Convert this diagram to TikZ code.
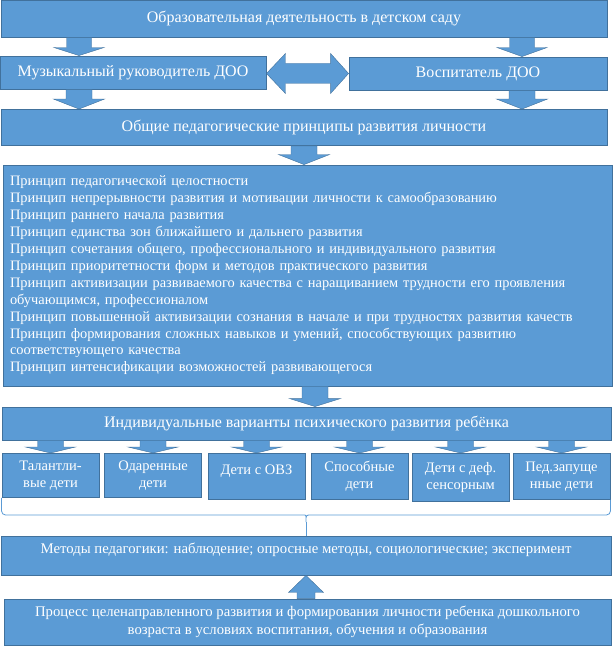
\documentclass[tikz,border=0pt]{standalone}
\usepackage{fontspec}
\setmainfont{Liberation Serif}
\usetikzlibrary{calc}

\definecolor{boxblue}{HTML}{5B9BD5}
\definecolor{boxline}{HTML}{41719C}

\tikzset{
  box/.style={draw=boxline, fill=boxblue, line width=0.9pt, text=white,
    inner sep=0pt, font=\fontsize{16}{19}\selectfont},
  kidbox/.style={box, align=center, anchor=north, minimum width=97pt,
    font=\fontsize{14.5}{17.5}\selectfont},
  arrowstyle/.style={fill=boxblue, draw=boxline, line width=0.4pt},
  bracestyle/.style={draw=boxblue, line width=0.8pt}
}

% block arrow: start, tip, half shaft, half head, head length
\newcommand{\blkarrow}[5]{%
  \filldraw[arrowstyle] let \p1=(#1), \p2=(#2) in
    ({\x1-#3},\y1) -- ({\x1-#3},{\y2+(#5)}) -- ({\x1-#4},{\y2+(#5)}) -- (\x1,\y2)
    -- ({\x1+#4},{\y2+(#5)}) -- ({\x1+#3},{\y2+(#5)}) -- ({\x1+#3},\y1) -- cycle;}

\begin{document}
\begin{tikzpicture}[x=1pt,y=-1pt]
  \useasboundingbox (0,0) rectangle (613,647);

  \node[box, minimum width=606pt, minimum height=37pt] (edu) at (304,18.5)
    {Образовательная деятельность в детском саду};
  \node[box, minimum width=266pt, minimum height=33pt] (mus) at (133,72.5)
    {Музыкальный руководитель ДОО};
  \node[box, minimum width=258pt, minimum height=33pt] (vosp) at (478,73.5)
    {Воспитатель ДОО};
  \node[box, minimum width=606pt, minimum height=36pt] (general) at (304,127.5)
    {Общие педагогические принципы развития личности};

  \node[box, minimum width=609pt, minimum height=221pt, text width=595pt,
    align=left, font=\fontsize{14.4}{16.9}\selectfont] (principles) at (307.5,275.5)
    {Принцип педагогической целостности\\
     Принцип непрерывности развития и мотивации личности к самообразованию\\
     Принцип раннего начала развития\\
     Принцип единства зон ближайшего и дальнего развития\\
     Принцип сочетания общего, профессионального и индивидуального развития\\
     Принцип приоритетности форм и методов практического развития\\
     Принцип активизации развиваемого качества с наращиванием трудности его проявления\\
     обучающимся, профессионалом\\
     Принцип повышенной активизации сознания в начале и при трудностях развития качеств\\
     Принцип формирования сложных навыков и умений, способствующих развитию\\
     соответствующего качества\\
     Принцип интенсификации возможностей развивающегося};

  \node[box, minimum width=609pt, minimum height=33pt] (variants) at (306.5,423.5)
    {Индивидуальные варианты психического развития ребёнка};

  \foreach \i/\x/\h/\t in {1/50.5/44/{Талантли-\\вые дети},
      2/153/44/{Одаренные\\дети},
      3/256.5/46/{\raisebox{5pt}[\height][\depth]{Дети с ОВЗ}},
      4/359.5/46/{Способные\\дети},
      5/460.5/48/{Дети с деф.\\сенсорным},
      6/561.5/46/{Пед.запуще\\нные дети}}
    \node[kidbox, minimum height=\h pt] (k\i) at (\x,453) {\t};

  \node[box, minimum width=610pt, minimum height=39pt, text depth=14pt,
    font=\fontsize{14.75}{18}\selectfont] (methods) at (306,555.5)
    {Методы педагогики: наблюдение; опросные методы, социологические; эксперимент};
  \node[box, minimum width=607pt, minimum height=46pt, align=center,
    font=\fontsize{14.7}{18}\selectfont] (process) at (307.5,622)
    {Процесс целенаправленного развития и формирования личности ребенка дошкольного\\
     возраста в условиях воспитания, обучения и образования};

  % arrows
  \coordinate (lcol) at (79,0);
  \coordinate (rcol) at (522,0);
  \blkarrow{edu.south -| lcol}{mus.north -| lcol}{12.5}{25}{8}
  \blkarrow{edu.south -| rcol}{vosp.north -| rcol}{12.5}{25}{9}
  \blkarrow{mus.south -| lcol}{general.north -| lcol}{13}{25.5}{10}
  \blkarrow{vosp.south -| rcol}{general.north -| rcol}{13}{25.5}{10}
  \blkarrow{general.south}{principles.north -| general.south}{13}{25.5}{10}
  \coordinate (vcol) at (315,0);
  \blkarrow{principles.south -| vcol}{variants.north -| vcol}{13}{25.5}{8}
  \foreach \i in {1,...,6}
    \blkarrow{variants.south -| k\i.north}{k\i.north}{13}{25}{6};
  \blkarrow{process.north -| methods.south}{methods.south}{9}{17.5}{-17}

  \filldraw[arrowstyle] let \p1=(mus.east), \p2=(vosp.west) in
    (\x1,\y2) -- ({\x1+19},{\y2+20}) -- ({\x1+19},{\y2+10}) -- ({\x2-18},{\y2+10})
    -- ({\x2-18},{\y2+20}) -- (\x2,\y2) -- ({\x2-18},{\y2-20}) -- ({\x2-18},{\y2-10})
    -- ({\x1+19},{\y2-10}) -- ({\x1+19},{\y2-20}) -- cycle;

  % brace
  \coordinate (brace) at (306,515);
  \coordinate (bracetip) at (306,522);
  \draw[bracestyle] (k1.south west) [rounded corners=4pt] |- ([xshift=-5pt]brace)
    [sharp corners] .. controls (brace) .. (bracetip) .. controls (brace) .. ([xshift=5pt]brace)
    [rounded corners=4pt] -| (k6.south east);
  \draw[bracestyle] (bracetip) -- (methods.north);
\end{tikzpicture}
\end{document}
